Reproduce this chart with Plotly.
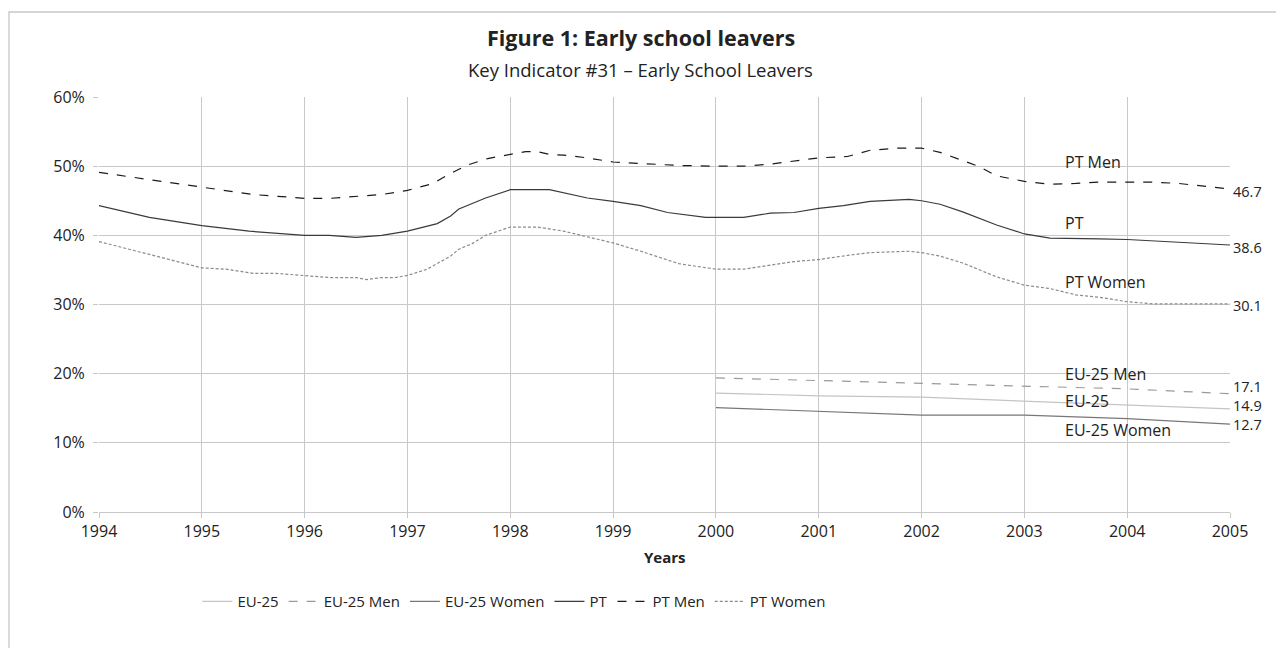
import plotly.graph_objects as go

# ---------------- data ----------------
pt_men_x = [1994.0, 1994.5, 1995.0, 1995.5, 1996.0, 1996.25, 1996.75, 1997.0, 1997.25, 1997.4,
            1997.59, 1997.78, 1998.0, 1998.15, 1998.26, 1998.38, 1998.52, 1998.75, 1999.0, 1999.27,
            1999.64, 2000.0, 2000.27, 2000.53, 2001.0, 2001.28, 2001.5, 2001.76, 2002.0, 2002.18,
            2002.55, 2002.73, 2003.0, 2003.24, 2003.5, 2003.73, 2004.0, 2004.24, 2004.5, 2005.0]
pt_men_y = [49.1, 48.0, 46.9, 45.9, 45.35, 45.35, 45.9, 46.5, 47.5, 48.8,
            50.2, 51.1, 51.7, 52.1, 52.1, 51.7, 51.6, 51.2, 50.6, 50.4,
            50.1, 50.0, 50.0, 50.3, 51.2, 51.4, 52.3, 52.6, 52.6, 52.0,
            50.0, 48.6, 47.8, 47.4, 47.5, 47.7, 47.7, 47.7, 47.5, 46.7]

pt_x = [1994.0, 1994.49, 1995.0, 1995.46, 1996.0, 1996.24, 1996.5, 1996.75, 1997.0, 1997.29,
        1997.42, 1997.5, 1997.76, 1998.0, 1998.38, 1998.75, 1999.0, 1999.27, 1999.53, 1999.9,
        2000.27, 2000.53, 2000.76, 2001.0, 2001.24, 2001.5, 2001.88, 2002.0, 2002.18, 2002.4,
        2002.73, 2003.0, 2003.25, 2003.5, 2003.73, 2004.0, 2005.0]
pt_y = [44.3, 42.6, 41.4, 40.6, 40.0, 40.0, 39.7, 40.0, 40.6, 41.7,
        42.8, 43.8, 45.4, 46.6, 46.6, 45.4, 44.9, 44.3, 43.3, 42.6,
        42.6, 43.2, 43.3, 43.9, 44.3, 44.9, 45.2, 45.0, 44.5, 43.4,
        41.5, 40.2, 39.6, 39.6, 39.5, 39.4, 38.6]

pt_women_x = [1994.0, 1994.49, 1995.0, 1995.24, 1995.5, 1995.72, 1996.0, 1996.24, 1996.5, 1996.6,
              1996.75, 1996.88, 1997.0, 1997.19, 1997.42, 1997.5, 1997.63, 1997.76, 1998.0, 1998.26,
              1998.52, 1998.75, 1999.0, 1999.27, 1999.64, 2000.0, 2000.27, 2000.76, 2001.0, 2001.28,
              2001.5, 2001.88, 2002.0, 2002.18, 2002.4, 2002.73, 2003.0, 2003.25, 2003.5, 2003.75,
              2004.0, 2004.25, 2004.75, 2005.0]
pt_women_y = [39.1, 37.2, 35.3, 35.1, 34.5, 34.5, 34.2, 33.9, 33.9, 33.6,
              33.9, 33.9, 34.2, 35.1, 37.0, 38.0, 38.8, 40.0, 41.2, 41.2,
              40.6, 39.8, 38.9, 37.7, 35.9, 35.1, 35.1, 36.2, 36.5, 37.1,
              37.5, 37.7, 37.5, 37.0, 36.0, 34.0, 32.8, 32.3, 31.4, 31.0,
              30.4, 30.1, 30.1, 30.1]

eu_years = [2000, 2001, 2002, 2003, 2004, 2005]
eu25 = [17.2, 16.8, 16.6, 16.0, 15.4, 14.9]
eu25_men = [19.4, 19.0, 18.6, 18.1, 17.8, 17.1]
eu25_women = [15.1, 14.5, 14.0, 14.0, 13.5, 12.7]

end_labels = ["46.7", "38.6", "30.1", "17.1", "14.9", "12.7"]
end_label_y = [46.3, 38.2, 29.9, 18.1, 15.35, 12.6]
name_labels = ["PT Men", "PT", "PT Women", "EU-25 Men", "EU-25", "EU-25 Women"]
name_label_y = [50.6, 41.8, 33.2, 20.0, 16.1, 11.9]

FONT = "Open Sans"
TXT = "#222222"

fig = go.Figure()

def add(x, y, name, color, dash, width=1.2):
    fig.add_trace(go.Scatter(x=x, y=y, mode="lines", name=name,
                             line=dict(color=color, dash=dash, width=width)))

add(eu_years, eu25, "EU-25", "#c4c4c4", "solid")
add(eu_years, eu25_men, "EU-25 Men", "#9a9a9a", "dash")
add(eu_years, eu25_women, "EU-25 Women", "#777777", "solid")
add(pt_x, pt_y, "PT", "#3a3a3a", "solid")
add(pt_men_x, pt_men_y, "PT Men", "#1a1a1a", "dash")
add(pt_women_x, pt_women_y, "PT Women", "#8a8a8a", "3px,2px")

annotations = []
for t, yv in zip(end_labels, end_label_y):
    annotations.append(dict(x=2005, y=yv, xref="x", yref="y", text=t, showarrow=False,
                            xanchor="left", yanchor="middle", xshift=1,
                            font=dict(family=FONT, size=14.5, color=TXT)))
for t, yv in zip(name_labels, name_label_y):
    annotations.append(dict(x=2003.38, y=yv, xref="x", yref="y", text=t, showarrow=False,
                            xanchor="left", yanchor="middle",
                            font=dict(family=FONT, size=16, color=TXT)))
annotations.append(dict(x=0.479, y=1.1445, xref="paper", yref="paper",
                        text="<b>Figure 1: Early school leavers</b>", showarrow=False,
                        xanchor="center", yanchor="middle",
                        font=dict(family=FONT, size=21.5, color=TXT)))
annotations.append(dict(x=0.479, y=1.067, xref="paper", yref="paper",
                        text="Key Indicator #31 – Early School Leavers", showarrow=False,
                        xanchor="center", yanchor="middle",
                        font=dict(family=FONT, size=18.5, color=TXT)))
annotations.append(dict(x=0.5, y=-0.108, xref="paper", yref="paper",
                        text="<b>Years</b>", showarrow=False,
                        xanchor="center", yanchor="middle",
                        font=dict(family=FONT, size=15, color=TXT)))

fig.update_layout(
    width=1284, height=648,
    margin=dict(l=91, r=62, t=89, b=144),
    paper_bgcolor="white", plot_bgcolor="white",
    showlegend=True,
    legend=dict(orientation="h", x=0.087, xanchor="left", y=-0.216, yanchor="middle",
                font=dict(family=FONT, size=15, color=TXT), itemwidth=30,
                bgcolor="rgba(0,0,0,0)"),
    annotations=annotations,
    shapes=[dict(type="rect", xref="paper", yref="paper",
                 x0=-0.0796, x1=1.046, y0=-0.4, y1=1.2048,
                 line=dict(color="#c8c8c8", width=1.3), layer="below")],
)
fig.update_xaxes(range=[1994, 2005], tick0=1994, dtick=1, showgrid=True,
                 gridcolor="#c8c8c8", gridwidth=1.3, zeroline=False,
                 showline=True, linecolor="#c8c8c8", linewidth=1.3,
                 ticks="outside", ticklen=5, tickcolor="#c8c8c8",
                 tickfont=dict(family=FONT, size=16, color=TXT))
fig.update_yaxes(range=[0, 60], tick0=0, dtick=10, ticksuffix="%", showgrid=True,
                 gridcolor="#c8c8c8", gridwidth=1.3, zeroline=False, showline=False,
                 ticks="outside", ticklen=5, tickcolor="#c8c8c8", ticklabelstandoff=5,
                 tickfont=dict(family=FONT, size=16, color=TXT))

fig.write_html("out.html")
